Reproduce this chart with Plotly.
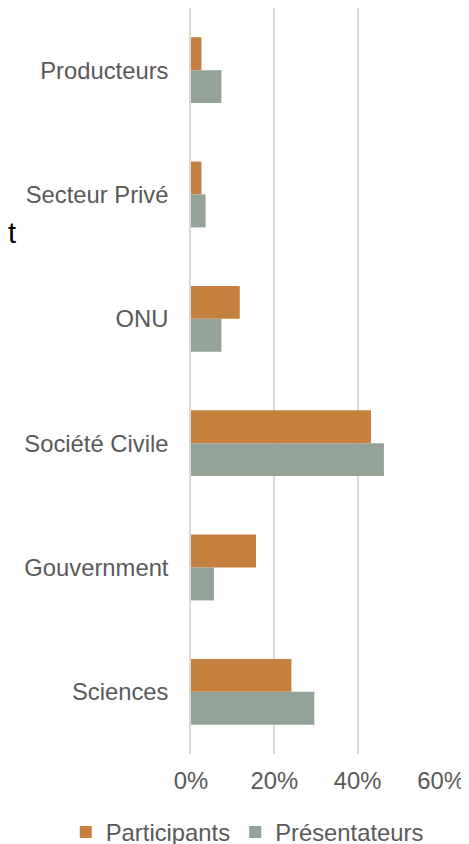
import plotly.graph_objects as go

categories = ["Producteurs", "Secteur Privé", "ONU", "Société Civile", "Gouvernment", "Sciences"]
participants = [0.025, 0.025, 0.117, 0.432, 0.156, 0.241]
presentateurs = [0.073, 0.035, 0.073, 0.463, 0.055, 0.296]
x_ticks = [0, 0.2, 0.4, 0.6]
x_tick_labels = ["0%", "20%", "40%", "60%"]

# page has an 8px body margin; figure sized to the visible area
OFF = 8
W, H = 469 - OFF, 844 - OFF
L, R, T, B = 190.5 - OFF, 28, 0, 844 - 754
pw, ph = W - L - R, H - T - B

fig = go.Figure()
fig.add_trace(go.Bar(y=categories, x=participants, orientation="h", name="Participants",
                     marker=dict(color="#C5803F", line=dict(width=0))))
fig.add_trace(go.Bar(y=categories, x=presentateurs, orientation="h", name="Présentateurs",
                     marker=dict(color="#94A398", line=dict(width=0))))

fig.update_layout(
    template="none",
    width=W, height=H,
    margin=dict(l=L, r=R, t=T, b=B, autoexpand=False),
    plot_bgcolor="white", paper_bgcolor="white",
    barmode="group", bargap=0.47, bargroupgap=0,
    font=dict(family="Liberation Sans, Arial, sans-serif", size=23.8, color="#595959"),
    showlegend=True,
    legend=dict(orientation="h", xref="paper", yref="paper",
                x=(65 - OFF - L) / pw, xanchor="left",
                y=-(832 - 754) / ph, yanchor="middle",
                font=dict(size=23.8, color="#595959"), bgcolor="rgba(0,0,0,0)",
                tracegroupgap=0),
    annotations=[dict(text="t", xref="paper", yref="paper", x=(-3 - L) / pw, xanchor="left",
                      y=1 - (233 - OFF) / ph, yanchor="middle", showarrow=False,
                      font=dict(size=29, color="#000000"))],
)
fig.update_xaxes(range=[0, 0.6], tickvals=x_ticks, ticktext=x_tick_labels, showgrid=True,
                 gridcolor="#D9D9D9", gridwidth=1.5, zeroline=False, showline=False,
                 ticks="", ticklabelstandoff=10, automargin=False,
                 tickfont=dict(size=23.8, color="#595959"))
fig.update_yaxes(autorange="reversed", showgrid=False, zeroline=False, showline=True,
                 linecolor="#D9D9D9", linewidth=1.5, ticks="", ticklabelstandoff=16,
                 automargin=False, tickfont=dict(size=23.8, color="#595959"))

fig.write_html("out.html")
